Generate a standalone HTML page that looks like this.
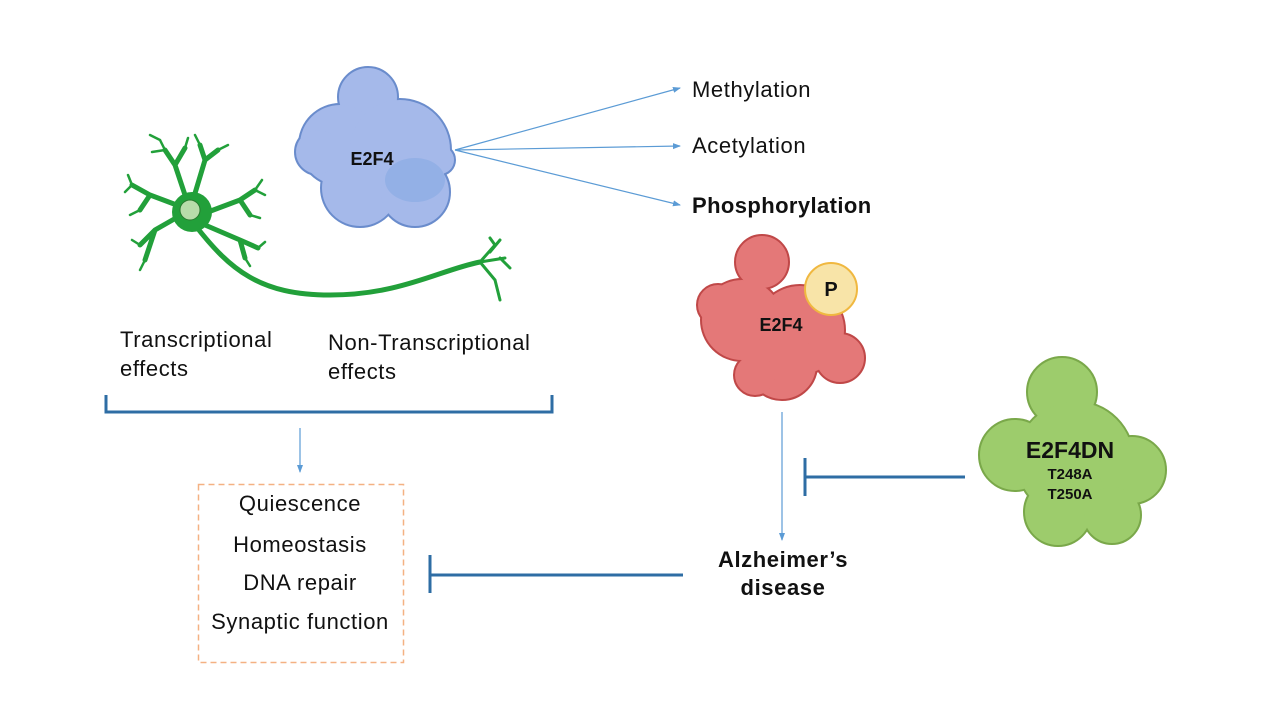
<!DOCTYPE html>
<html><head><meta charset="utf-8"><style>
body{margin:0;background:#fff}
svg{display:block;font-family:"Liberation Sans",Arial,sans-serif}
</style></head><body>
<svg width="1280" height="720" viewBox="0 0 1280 720">
<defs>
<marker id="ar" markerWidth="8" markerHeight="8" refX="7" refY="4" orient="auto" markerUnits="userSpaceOnUse"><path d="M0,1 L8,4 L0,7z" fill="#5b9bd5"/></marker>
</defs>
<!-- blue blob -->
<g stroke="#6a8ccc" stroke-width="4" fill="#6a8ccc">
<circle cx="368" cy="97" r="29"/><circle cx="340" cy="145" r="40"/><circle cx="400" cy="150" r="50"/><circle cx="360" cy="188" r="38"/><circle cx="415" cy="192" r="34"/><circle cx="318" cy="152" r="22"/><circle cx="440" cy="160" r="14"/>
</g>
<g fill="#a5b9ea">
<circle cx="368" cy="97" r="29"/><circle cx="340" cy="145" r="40"/><circle cx="400" cy="150" r="50"/><circle cx="360" cy="188" r="38"/><circle cx="415" cy="192" r="34"/><circle cx="318" cy="152" r="22"/><circle cx="440" cy="160" r="14"/>
</g>
<ellipse cx="415" cy="180" rx="30" ry="22" fill="#93b0e6"/>
<text x="372" y="165" font-size="18" font-weight="bold" text-anchor="middle" fill="#111">E2F4</text>
<!-- red blob -->
<g stroke="#c04848" stroke-width="4" fill="#c04848">
<circle cx="762" cy="262" r="26"/><circle cx="742" cy="320" r="40"/><circle cx="800" cy="330" r="44"/><circle cx="782" cy="365" r="34"/><circle cx="840" cy="358" r="24"/><circle cx="718" cy="305" r="20"/><circle cx="755" cy="375" r="20"/>
</g>
<g fill="#e47878">
<circle cx="762" cy="262" r="26"/><circle cx="742" cy="320" r="40"/><circle cx="800" cy="330" r="44"/><circle cx="782" cy="365" r="34"/><circle cx="840" cy="358" r="24"/><circle cx="718" cy="305" r="20"/><circle cx="755" cy="375" r="20"/>
</g>
<circle cx="831" cy="289" r="26" fill="#f8e4a8" stroke="#f0b840" stroke-width="2"/>
<text x="831" y="296" font-size="20" font-weight="bold" text-anchor="middle" fill="#111">P</text>
<text x="781" y="331" font-size="18" font-weight="bold" text-anchor="middle" fill="#111">E2F4</text>
<!-- green blob -->
<g stroke="#7aa84a" stroke-width="4" fill="#7aa84a">
<circle cx="1062" cy="392" r="34"/><circle cx="1015" cy="455" r="35"/><circle cx="1075" cy="460" r="58"/><circle cx="1132" cy="470" r="33"/><circle cx="1058" cy="512" r="33"/><circle cx="1112" cy="515" r="28"/>
</g>
<g fill="#9dcc6c">
<circle cx="1062" cy="392" r="34"/><circle cx="1015" cy="455" r="35"/><circle cx="1075" cy="460" r="58"/><circle cx="1132" cy="470" r="33"/><circle cx="1058" cy="512" r="33"/><circle cx="1112" cy="515" r="28"/>
</g>
<text x="1070" y="458" font-size="23" font-weight="bold" text-anchor="middle" fill="#111">E2F4DN</text>
<text x="1070" y="479" font-size="15" font-weight="bold" text-anchor="middle" fill="#111">T248A</text>
<text x="1070" y="499" font-size="15" font-weight="bold" text-anchor="middle" fill="#111">T250A</text>
<!-- neuron -->
<g stroke="#22a03a" fill="none" stroke-linecap="round">
<path d="M195,225 C230,270 260,295 330,295 C400,295 440,270 480,262" stroke-width="5"/>
<path d="M480,262 L495,245 M480,262 L505,258 M480,262 L495,280 M490,252 L500,240 M495,245 L490,238 M500,258 L510,268 M495,280 L500,300" stroke-width="3"/>
<g stroke-width="5">
<path d="M190,210 L175,165 L165,150 M175,165 L185,148 M190,210 L205,160 L200,145 M205,160 L218,150 M190,210 L150,195 L132,185 M150,195 L140,210 M190,210 L155,230 L140,245 M155,230 L145,260 M200,215 L240,200 L255,190 M240,200 L250,215 M205,225 L240,240 L258,248 M240,240 L245,258"/>
</g>
<g stroke-width="2.5">
<path d="M165,150 L160,140 M165,150 L152,152 M185,148 L188,138 M200,145 L195,135 M218,150 L228,145 M132,185 L128,175 M132,185 L125,192 M140,210 L130,215 M140,245 L132,240 M145,260 L140,270 M255,190 L262,180 M255,190 L265,195 M250,215 L260,218 M258,248 L265,242 M245,258 L250,266 M160,140 L150,135"/>
</g>
</g>
<circle cx="192" cy="212" r="20" fill="#22a03a"/>
<circle cx="190" cy="210" r="10" fill="#b8dcaa" stroke="#2a7a30" stroke-width="1"/>
<!-- text left -->
<g font-size="22" fill="#111" letter-spacing="0.6">
<text x="120" y="347">Transcriptional</text><text x="120" y="376">effects</text>
<text x="328" y="350">Non-Transcriptional</text><text x="328" y="379">effects</text>
<text x="692" y="97">Methylation</text>
<text x="692" y="153">Acetylation</text>
<text x="692" y="213" font-weight="bold" letter-spacing="0.4">Phosphorylation</text>
</g>
<g stroke="#5b9bd5" stroke-width="1.2" marker-end="url(#ar)">
<line x1="455" y1="150" x2="680" y2="88"/>
<line x1="455" y1="150" x2="680" y2="146"/>
<line x1="455" y1="150" x2="680" y2="205"/>
<line x1="300" y1="428" x2="300" y2="472"/>
<line x1="782" y1="412" x2="782" y2="540"/>
</g>
<path d="M106,395 V412 H552 V395" fill="none" stroke="#2e6da4" stroke-width="3"/>
<rect x="198.5" y="484.5" width="205" height="178" fill="none" stroke="#f4b183" stroke-width="1.5" stroke-dasharray="6,4"/>
<g font-size="22" fill="#111" text-anchor="middle" letter-spacing="0.6">
<text x="300" y="511">Quiescence</text><text x="300" y="552">Homeostasis</text><text x="300" y="590">DNA repair</text><text x="300" y="629">Synaptic function</text>
</g>
<g font-size="22" font-weight="bold" fill="#111" text-anchor="middle" letter-spacing="0.6">
<text x="783" y="567">Alzheimer’s</text><text x="783" y="595">disease</text>
</g>
<g stroke="#2e6da4" stroke-width="3">
<line x1="430" y1="575" x2="683" y2="575"/><line x1="430" y1="555" x2="430" y2="593"/>
<line x1="805" y1="477" x2="965" y2="477"/><line x1="805" y1="458" x2="805" y2="496"/>
</g>
</svg>
</body></html>
